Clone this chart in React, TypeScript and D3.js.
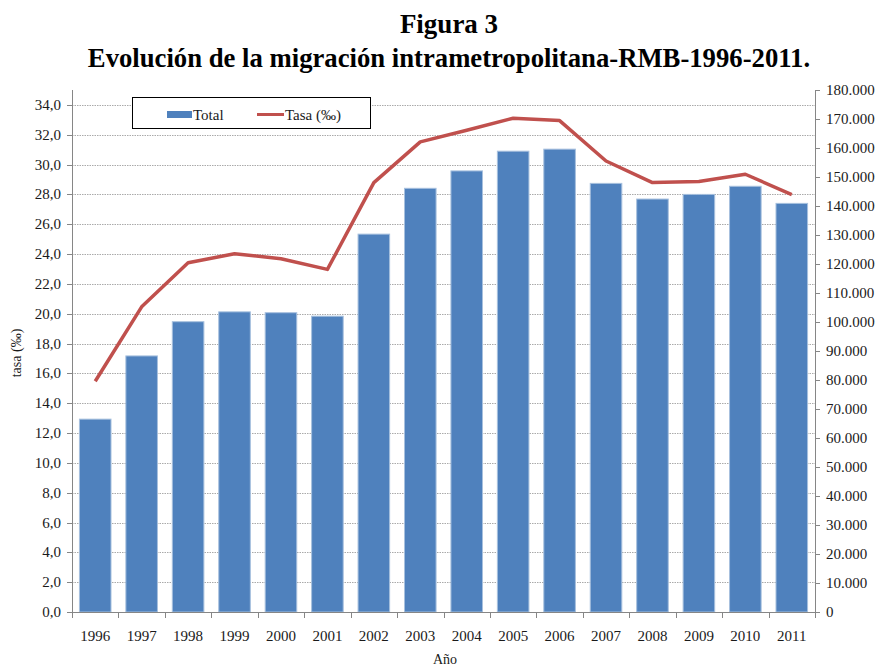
import React from "react";
import * as d3 from "d3";

const years = ["1996","1997","1998","1999","2000","2001","2002","2003","2004","2005","2006","2007","2008","2009","2010","2011"];
const totalValues = [66500, 88300, 100100, 103500, 103200, 102000, 130300, 146100, 152100, 158900, 159600, 147800, 142400, 144000, 146800, 140900];
const tasaValues = [15.47, 20.46, 23.42, 24.02, 23.69, 22.97, 28.79, 31.52, 32.3, 33.11, 32.95, 30.24, 28.79, 28.86, 29.35, 27.99];
const leftTicks = d3.range(0, 34.001, 2);
const rightTicks = d3.range(0, 180001, 10000);
const titleLines = ["Figura 3", "Evolución de la migración intrametropolitana-RMB-1996-2011."];

const W = 880, H = 668;
const plot = { left: 72, right: 815, top: 90, bottom: 612 };
const font = "'Liberation Serif', 'Times New Roman', serif";

const fmtLeft = (v: number) => v.toFixed(1).replace(".", ",");
const fmtRight = (v: number) => (v === 0 ? "0" : d3.format(",")(v).replace(/,/g, "."));

export default function App() {
  const x = d3.scaleBand<string>().domain(years).range([plot.left, plot.right]).paddingInner(0.32).paddingOuter(0.16);
  const yL = d3.scaleLinear().domain([0, 35]).range([plot.bottom, plot.top]);
  const yR = d3.scaleLinear().domain([0, 180000]).range([plot.bottom, plot.top]);
  const line = d3.line<number>().x((_, i) => (x(years[i]) as number) + x.bandwidth() / 2).y((d) => yL(d));
  const boundaries = d3.range(0, years.length + 1).map((i) => plot.left + i * (plot.right - plot.left) / years.length);

  return (
    <div style={{ position: "absolute", left: 0, top: 0 }}>
      <svg width={W} height={H} style={{ display: "block", background: "#fff" }} fontFamily={font}>
        <text x={449} y={33} textAnchor="middle" fontSize={27} fontWeight="bold" fill="#000">{titleLines[0]}</text>
        <text x={449} y={67} textAnchor="middle" fontSize={26.7} fontWeight="bold" fill="#000">{titleLines[1]}</text>

        {/* gridlines */}
        {leftTicks.filter((t) => t > 0).map((t) => (
          <line key={"g" + t} x1={plot.left} x2={plot.right} y1={Math.round(yL(t)) + 0.5} y2={Math.round(yL(t)) + 0.5}
            stroke="#aaaaaa" strokeWidth={1} strokeDasharray="1.5,1" />
        ))}

        {/* bars */}
        {totalValues.map((v, i) => (
          <rect key={"b" + i} x={x(years[i])} y={yR(v)} width={x.bandwidth()} height={plot.bottom - yR(v)}
            fill="#4F81BD" stroke="#A7C0DE" strokeWidth={1} />
        ))}

        {/* line */}
        <path d={line(tasaValues) || ""} fill="none" stroke="#C0504D" strokeWidth={3.5} strokeLinejoin="round" />

        {/* axes */}
        <line x1={plot.left + 0.5} x2={plot.left + 0.5} y1={plot.top} y2={plot.bottom} stroke="#868686" />
        <line x1={plot.right + 0.5} x2={plot.right + 0.5} y1={plot.top} y2={plot.bottom} stroke="#868686" />
        <line x1={plot.left} x2={plot.right + 1} y1={plot.bottom + 0.5} y2={plot.bottom + 0.5} stroke="#868686" />

        {leftTicks.map((t) => (
          <g key={"lt" + t}>
            <line x1={plot.left - 5} x2={plot.left} y1={Math.round(yL(t)) + 0.5} y2={Math.round(yL(t)) + 0.5} stroke="#868686" />
            <text x={61} y={yL(t) + 5} textAnchor="end" fontSize={15} fill="#1a1a1a">{fmtLeft(t)}</text>
          </g>
        ))}
        {rightTicks.map((t) => (
          <g key={"rt" + t}>
            <line x1={plot.right} x2={plot.right + 5} y1={Math.round(yR(t)) + 0.5} y2={Math.round(yR(t)) + 0.5} stroke="#868686" />
            <text x={826} y={yR(t) + 5} textAnchor="start" fontSize={15} fill="#1a1a1a">{fmtRight(t)}</text>
          </g>
        ))}
        {boundaries.map((bx, i) => (
          <line key={"xt" + i} x1={Math.round(bx) + 0.5} x2={Math.round(bx) + 0.5} y1={plot.bottom} y2={plot.bottom + 6} stroke="#868686" />
        ))}
        {years.map((yr) => (
          <text key={"xl" + yr} x={(x(yr) as number) + x.bandwidth() / 2} y={641} textAnchor="middle" fontSize={15} fill="#1a1a1a">{yr}</text>
        ))}

        <text x={445} y={664} textAnchor="middle" fontSize={14} fill="#1a1a1a">Año</text>
        <text transform={`translate(21,${353}) rotate(-90)`} textAnchor="middle" fontSize={14} fill="#1a1a1a">tasa (‰)</text>

        {/* legend */}
        <rect x={132.5} y={97.5} width={238} height={31} fill="#fff" stroke="#000" strokeWidth={1} />
        <rect x={167} y={111} width={25} height={7} fill="#4F81BD" />
        <text x={193} y={120} fontSize={15} fill="#1a1a1a">Total</text>
        <line x1={257} x2={284} y1={114.5} y2={114.5} stroke="#C0504D" strokeWidth={3} />
        <text x={285} y={120} fontSize={15} fill="#1a1a1a">Tasa (‰)</text>
      </svg>
    </div>
  );
}
